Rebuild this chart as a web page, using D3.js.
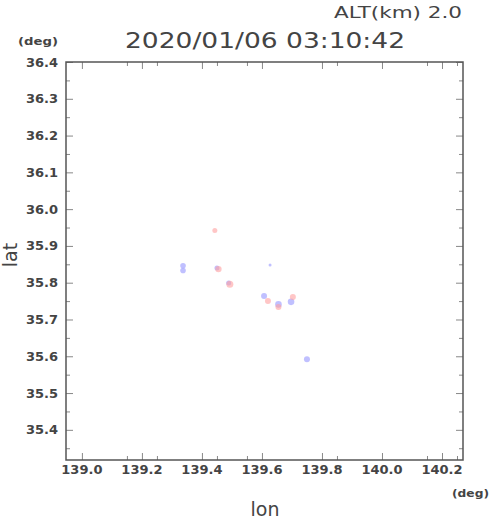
<!DOCTYPE html>
<html><head><meta charset="utf-8">
<script src="https://cdn.jsdelivr.net/npm/d3@7"></script>
<style>body{margin:0;background:#fff}svg{display:block}</style>
</head><body>
<script>
const titleText = "2020/01/06 03:10:42";
const altText = "ALT(km) 2.0";
const xTicks = [139.0, 139.2, 139.4, 139.6, 139.8, 140.0, 140.2];
const yTicks = [35.4, 35.5, 35.6, 35.7, 35.8, 35.9, 36.0, 36.1, 36.2, 36.3, 36.4];
const xDomain = [138.947, 140.27];
const yDomain = [35.318, 36.4];
// red (pink) echoes
const redLon = [139.443, 139.455, 139.493, 139.620, 139.655, 139.703];
const redLat = [35.942, 35.837, 35.796, 35.750, 35.734, 35.761];
const redR   = [2.5, 3.2, 3.5, 3, 3, 3];
// blue echoes
const blueLon = [139.337, 139.337, 139.450, 139.489, 139.627, 139.607, 139.655, 139.697, 139.750];
const blueLat = [35.846, 35.833, 35.840, 35.799, 35.848, 35.764, 35.741, 35.748, 35.592];
const blueR   = [2.8, 2.8, 2.5, 2.5, 1.5, 3, 3.3, 3.3, 3];

const W = 490, H = 521;
const L = 66, R = 463, T = 62, B = 460;
const svg = d3.select("body").append("svg").attr("width", W).attr("height", H);
const x = d3.scaleLinear().domain(xDomain).range([L, R]);
const y = d3.scaleLinear().domain(yDomain).range([B, T]);
const font = "DejaVu Sans, sans-serif";
const txt = "#444";

// points
const red = redLon.map((v, i) => ({lon: v, lat: redLat[i], r: redR[i]}));
const blue = blueLon.map((v, i) => ({lon: v, lat: blueLat[i], r: blueR[i]}));
svg.append("g").selectAll("circle").data(blue).join("circle")
  .attr("cx", d => x(d.lon)).attr("cy", d => y(d.lat)).attr("r", d => d.r)
  .attr("fill", "rgb(150,150,255)").attr("fill-opacity", 0.6);
svg.append("g").selectAll("circle").data(red).join("circle")
  .attr("cx", d => x(d.lon)).attr("cy", d => y(d.lat)).attr("r", d => d.r)
  .attr("fill", "rgb(255,160,160)").attr("fill-opacity", 0.6);

// axes with inward ticks
const xMinor = d3.range(138.95, 140.28, 0.1).filter(v => Math.abs(Math.round(v*10)%2) === 1);
const yMinor = d3.range(35.35, 36.4, 0.1);
function tickStyle(g) { g.select(".domain").remove(); g.selectAll("line").attr("stroke", "#888"); g.selectAll("text").remove(); }
svg.append("g").attr("transform", `translate(0,${B})`).call(d3.axisTop(x).tickValues(xTicks).tickSize(7)).call(tickStyle);
svg.append("g").attr("transform", `translate(0,${B})`).call(d3.axisTop(x).tickValues(xMinor).tickSize(4)).call(tickStyle);
svg.append("g").attr("transform", `translate(0,${T})`).call(d3.axisBottom(x).tickValues(xTicks).tickSize(7)).call(tickStyle);
svg.append("g").attr("transform", `translate(0,${T})`).call(d3.axisBottom(x).tickValues(xMinor).tickSize(4)).call(tickStyle);
svg.append("g").attr("transform", `translate(${L},0)`).call(d3.axisRight(y).tickValues(yTicks).tickSize(7)).call(tickStyle);
svg.append("g").attr("transform", `translate(${L},0)`).call(d3.axisRight(y).tickValues(yMinor).tickSize(4)).call(tickStyle);
svg.append("g").attr("transform", `translate(${R},0)`).call(d3.axisLeft(y).tickValues(yTicks).tickSize(7)).call(tickStyle);
svg.append("g").attr("transform", `translate(${R},0)`).call(d3.axisLeft(y).tickValues(yMinor).tickSize(4)).call(tickStyle);

svg.append("rect").attr("x", L).attr("y", T).attr("width", R - L).attr("height", B - T)
  .attr("fill", "none").attr("stroke", "#555").attr("stroke-width", 1.5);

// tick labels
svg.append("g").selectAll("text").data(xTicks).join("text")
  .attr("x", d => x(d)).attr("y", 474).attr("text-anchor", "middle")
  .attr("font-family", font).attr("font-weight", "bold").attr("font-size", 13).attr("fill", txt)
  .text(d => d.toFixed(1));
svg.append("g").selectAll("text").data(yTicks).join("text")
  .attr("x", 58).attr("y", d => y(d)).attr("dy", "0.35em").attr("text-anchor", "end")
  .attr("font-family", font).attr("font-weight", "bold").attr("font-size", 13).attr("fill", txt)
  .text(d => d.toFixed(1));

// labels
svg.append("text").attr("x", 125).attr("y", 48).attr("textLength", 280).attr("lengthAdjust", "spacingAndGlyphs")
  .attr("font-family", font).attr("font-size", 22).attr("fill", txt).text(titleText);
svg.append("text").attr("x", 334).attr("y", 18).attr("textLength", 128).attr("lengthAdjust", "spacingAndGlyphs")
  .attr("font-family", font).attr("font-size", 16).attr("fill", txt).text(altText);
svg.append("text").attr("x", 18).attr("y", 45).attr("textLength", 40).attr("lengthAdjust", "spacingAndGlyphs")
  .attr("font-family", font).attr("font-weight", "bold").attr("font-size", 11).attr("fill", txt).text("(deg)");
svg.append("text").attr("x", 452).attr("y", 497).attr("textLength", 37).attr("lengthAdjust", "spacingAndGlyphs")
  .attr("font-family", font).attr("font-weight", "bold").attr("font-size", 11).attr("fill", txt).text("(deg)");
svg.append("text").attr("x", 265).attr("y", 516).attr("text-anchor", "middle")
  .attr("font-family", font).attr("font-size", 19).attr("fill", txt).text("lon");
svg.append("text").attr("transform", "translate(17,255) rotate(-90)").attr("text-anchor", "middle")
  .attr("font-family", font).attr("font-size", 19).attr("fill", txt).text("lat");
</script>
</body></html>
